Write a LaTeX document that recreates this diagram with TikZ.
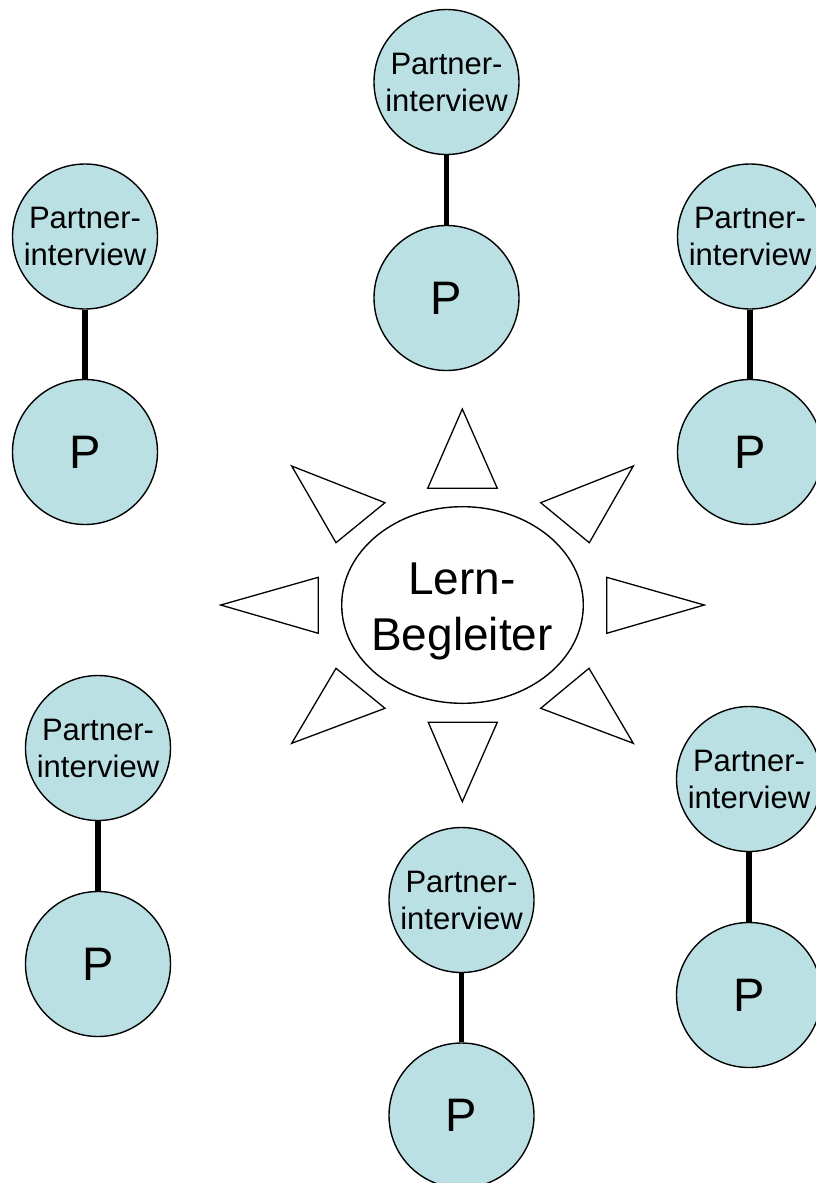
\documentclass[tikz,border=0pt]{standalone}
\usepackage{fontspec}
\setmainfont{Liberation Sans}
\usetikzlibrary{shapes.geometric}
\definecolor{pfill}{RGB}{187,224,227}
\begin{document}
\begin{tikzpicture}[x=1pt,y=-1pt,
  qcirc/.style={circle,draw=black,line width=1.4pt,fill=pfill,minimum size=145pt,inner sep=0pt,align=center,font=\fontsize{31}{37}\selectfont},
  pcirc/.style={circle,draw=black,line width=1.4pt,fill=pfill,minimum size=145pt,inner sep=0pt,font=\fontsize{47}{56}\selectfont},
  link/.style={line width=5.5pt,draw=black},
  ray/.style={draw=black,line width=1.3pt,fill=white,line join=miter},
  hub/.style={ellipse,draw=black,line width=1.4pt,fill=white,minimum width=241.6pt,minimum height=196.6pt,inner sep=0pt},
  hubtext/.style={align=center,inner sep=0pt,font=\fontsize{46}{56}\selectfont}]
\useasboundingbox (0,0) rectangle (815,1183);

% partner pairs
\node[qcirc] (q1) at (446.5,82) {Partner-\\interview};
\node[pcirc] (p1) at (446.5,298) {P};
\node[qcirc] (q2) at (85,236.5) {Partner-\\interview};
\node[pcirc] (p2) at (85,452) {P};
\node[qcirc] (q3) at (750,236.5) {Partner-\\interview};
\node[pcirc] (p3) at (750,452) {P};
\node[qcirc] (q4) at (98,748) {Partner-\\interview};
\node[pcirc] (p4) at (98,964) {P};
\node[qcirc] (q5) at (461.5,900) {Partner-\\interview};
\node[pcirc] (p5) at (461.5,1115.5) {P};
\node[qcirc] (q6) at (749,779) {Partner-\\interview};
\node[pcirc] (p6) at (749,995) {P};

\foreach \i in {1,...,6} {\draw[link] (q\i.south) -- (p\i.north);}

% centre
\node[hub] (hub) at (462.5,605) {};
\node[hubtext] (hubt) at (462,611.2) {Lern-\\Begleiter};

% rays
\draw[ray] (462.3,409) -- (427.7,488.3) -- (497.3,488.3) -- cycle;
\draw[ray] (291.7,466) -- (385,502.7) -- (336,542.7) -- cycle;
\draw[ray] (633.3,466) -- (540.7,502.7) -- (589.3,542.7) -- cycle;
\draw[ray] (220.7,605) -- (318.3,577.3) -- (318.3,633.3) -- cycle;
\draw[ray] (704.3,605) -- (606.7,577.3) -- (606.7,633.3) -- cycle;
\draw[ray] (336,668.3) -- (385,708.3) -- (291.7,743.3) -- cycle;
\draw[ray] (589,668.3) -- (540.7,708.3) -- (633.3,743.3) -- cycle;
\draw[ray] (428.3,722.3) -- (497.3,722.3) -- (462.3,801.7) -- cycle;
\end{tikzpicture}
\end{document}
